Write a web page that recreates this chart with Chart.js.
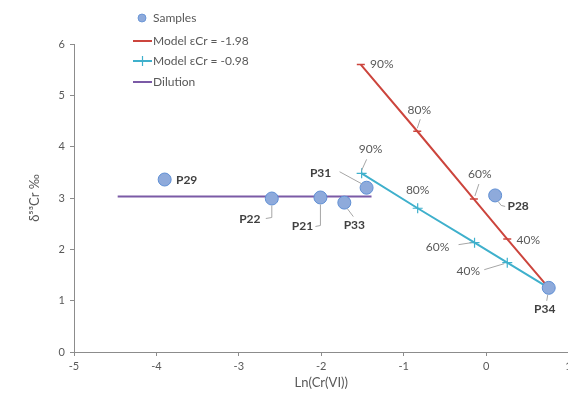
<!DOCTYPE html>
<html>
<head>
<meta charset="utf-8">
<script src="https://cdn.jsdelivr.net/npm/chart.js@4.4.1/dist/chart.umd.min.js"></script>
<style>
html, body { margin: 0; padding: 0; background: #fff; overflow: hidden; width: 568px; height: 398px; }
#wrap { width: 576px; height: 398px; }
</style>
</head>
<body>
<div id="wrap"><canvas id="chart"></canvas></div>
<script>
// samples
const sampleNames = ['P29', 'P22', 'P21', 'P33', 'P31', 'P28', 'P34'];
const sampleX = [-3.90, -2.60, -2.01, -1.72, -1.45, 0.11, 0.76];
const sampleY = [3.36, 2.99, 3.01, 2.91, 3.20, 3.05, 1.25];

// reduction models (last point = P34)
const fractionLabels = ['90%', '80%', '60%', '40%', ''];
const modelAX = [-1.52, -0.835, -0.148, 0.257, 0.76];
const modelAY = [5.60, 4.30, 2.98, 2.20, 1.25];
const modelBX = [-1.51, -0.83, -0.14, 0.257, 0.76];
const modelBY = [3.48, 2.80, 2.13, 1.74, 1.25];

// dilution
const dilutionX = [-4.47, -1.39];
const dilutionY = [3.03, 3.03];

const xTicks = [-5, -4, -3, -2, -1, 0, 1];
const yTicks = [0, 1, 2, 3, 4, 5, 6];

function pts(xs, ys) {
    return xs.map(function(x, i) { return {x: x, y: ys[i]}; });
}

const FONT = 'Lato, "Open Sans", sans-serif';
const textGray = '#595959';
const red = '#cc453d';
const cyan = '#3fb0cc';
const purple = '#7b5aa6';
const blueFill = '#8eaadb';
const blueEdge = '#5f8fd4';

// label placement (pixel offsets from the point, leader line points)
const sampleLabelPos = [
    {dx: 22, dy: 1},
    {dx: -22, dy: 21, lead: [[0, 7], [0, 19], [-6, 20]]},
    {dx: -18, dy: 29, lead: [[0, 7], [0, 28], [-5, 29]]},
    {dx: 10, dy: 23, lead: [[3, 6], [9, 14]]},
    {dx: -46, dy: -15, lead: [[-27, -16], [-5, -4]]},
    {dx: 23, dy: 11, lead: [[3, 6], [6, 10], [10, 11]]},
    {dx: -4, dy: 21, lead: [[-1, 7], [-2, 13]]}
];
const modelALabelPos = [
    {dx: 21, dy: 0},
    {dx: 2, dy: -21, lead: [[3, -12], [0, -3]]},
    {dx: 6, dy: -25, lead: [[5, -15], [1, -3]]},
    {dx: 21, dy: 1},
    {dx: 0, dy: 0}
];
const modelBLabelPos = [
    {dx: 9, dy: -24, lead: [[5, -14], [0, -3]]},
    {dx: 0, dy: -18},
    {dx: -37, dy: 4, lead: [[-16, 2], [-3, 0]]},
    {dx: -39, dy: 8, lead: [[-23, 7], [-3, 1]]},
    {dx: 0, dy: 0}
];

const pointLabels = {
    id: 'pointLabels',
    afterDatasetsDraw: function(chart, args, opts) {
        const ctx = chart.ctx;
        opts.sets.forEach(function(s) {
            const meta = chart.getDatasetMeta(s.dataset);
            s.texts.forEach(function(t, i) {
                if (!t) return;
                const p = meta.data[i];
                const o = s.pos[i];
                ctx.save();
                if (o.lead) {
                    ctx.strokeStyle = '#a6a6a6';
                    ctx.lineWidth = 1;
                    ctx.beginPath();
                    o.lead.forEach(function(q, k) {
                        if (k === 0) ctx.moveTo(p.x + q[0], p.y + q[1]);
                        else ctx.lineTo(p.x + q[0], p.y + q[1]);
                    });
                    ctx.stroke();
                }
                ctx.font = s.font;
                ctx.fillStyle = s.color;
                ctx.textAlign = 'center';
                ctx.textBaseline = 'middle';
                ctx.fillText(t, p.x + o.dx, p.y + o.dy);
                ctx.restore();
            });
        });
    }
};

const boxLegend = {
    id: 'boxLegend',
    afterDraw: function(chart) {
        const ctx = chart.ctx;
        ctx.save();
        ctx.font = '12px ' + FONT;
        ctx.fillStyle = textGray;
        ctx.textBaseline = 'middle';
        ctx.textAlign = 'left';

        // samples
        ctx.beginPath();
        ctx.arc(142, 18, 4, 0, Math.PI * 2);
        ctx.fillStyle = blueFill;
        ctx.fill();
        ctx.strokeStyle = blueEdge;
        ctx.lineWidth = 0.8;
        ctx.stroke();

        const rows = [
            {y: 41, color: red, text: 'Model \u03b5Cr = -1.98', mark: 'dash'},
            {y: 61, color: cyan, text: 'Model \u03b5Cr = -0.98', mark: 'cross'},
            {y: 82, color: purple, text: 'Dilution'}
        ];
        rows.forEach(function(r) {
            ctx.strokeStyle = r.color;
            ctx.lineWidth = 2;
            ctx.beginPath();
            ctx.moveTo(133, r.y);
            ctx.lineTo(152, r.y);
            ctx.stroke();
            if (r.mark === 'cross') {
                ctx.lineWidth = 1.2;
                ctx.beginPath();
                ctx.moveTo(142.5, r.y - 5);
                ctx.lineTo(142.5, r.y + 5);
                ctx.stroke();
            }
        });

        ctx.fillStyle = textGray;
        ctx.fillText('Samples', 153, 18);
        rows.forEach(function(r) {
            ctx.fillText(r.text, 153, r.y);
        });
        ctx.restore();
    }
};

const ctx = document.getElementById('chart').getContext('2d');
const config = {
    type: 'scatter',
    data: {
        datasets: [{
            label: 'Samples',
            data: pts(sampleX, sampleY),
            backgroundColor: blueFill,
            borderColor: blueEdge,
            borderWidth: 1,
            pointRadius: 6.5,
            order: 0
        }, {
            label: 'Model \u03b5Cr = -1.98',
            data: pts(modelAX, modelAY),
            showLine: true,
            borderColor: red,
            backgroundColor: red,
            borderWidth: 2,
            pointStyle: 'line',
            pointRadius: 4,
            pointBorderWidth: 1.5,
            order: 1
        }, {
            label: 'Model \u03b5Cr = -0.98',
            data: pts(modelBX, modelBY),
            showLine: true,
            borderColor: cyan,
            backgroundColor: cyan,
            borderWidth: 2,
            pointStyle: 'cross',
            pointRadius: 5,
            pointBorderWidth: 1.2,
            order: 2
        }, {
            label: 'Dilution',
            data: pts(dilutionX, dilutionY),
            showLine: true,
            borderColor: purple,
            borderWidth: 2,
            pointRadius: 0,
            order: 3
        }]
    },
    options: {
        responsive: true,
        maintainAspectRatio: false,
        animation: false,
        layout: { padding: { top: 44, left: 0, right: 0, bottom: 0 } },
        plugins: {
            legend: { display: false },
            tooltip: { enabled: false },
            pointLabels: {
                sets: [
                    {dataset: 0, texts: sampleNames, pos: sampleLabelPos, font: 'bold 12px ' + FONT, color: '#404040'},
                    {dataset: 1, texts: fractionLabels, pos: modelALabelPos, font: '12px ' + FONT, color: textGray},
                    {dataset: 2, texts: fractionLabels, pos: modelBLabelPos, font: '12px ' + FONT, color: textGray}
                ]
            }
        },
        scales: {
            x: {
                type: 'linear',
                min: -5,
                max: 1,
                afterBuildTicks: function(s) { s.ticks = xTicks.map(function(v) { return {value: v}; }); },
                afterFit: function(s) { s.height = 46; s.paddingLeft = 0; s.paddingRight = 0; },
                ticks: { color: textGray, font: { family: FONT, size: 11 }, padding: 4, maxRotation: 0 },
                grid: { drawOnChartArea: false, tickLength: 4, color: '#8c8c8c' },
                border: { color: '#8c8c8c', width: 1 },
                title: { display: true, text: 'Ln(Cr(VI))', color: textGray, font: { family: FONT, size: 13 }, padding: { top: 0, bottom: 7 } }
            },
            y: {
                min: 0,
                max: 6,
                afterBuildTicks: function(s) { s.ticks = yTicks.map(function(v) { return {value: v}; }); },
                afterFit: function(s) { s.width = 74; s.paddingTop = 0; s.paddingBottom = 0; },
                ticks: { color: textGray, font: { family: FONT, size: 11 }, padding: 5 },
                grid: { drawOnChartArea: false, tickLength: 4, color: '#8c8c8c' },
                border: { color: '#8c8c8c', width: 1 },
                title: { display: true, text: '\u03b4\u2075\u00b3Cr \u2030', color: textGray, font: { family: FONT, size: 13 }, padding: { top: 27, bottom: 0 } }
            }
        }
    },
    plugins: [pointLabels, boxLegend]
};

var chart = new Chart(ctx, config);
</script>
</body>
</html>
